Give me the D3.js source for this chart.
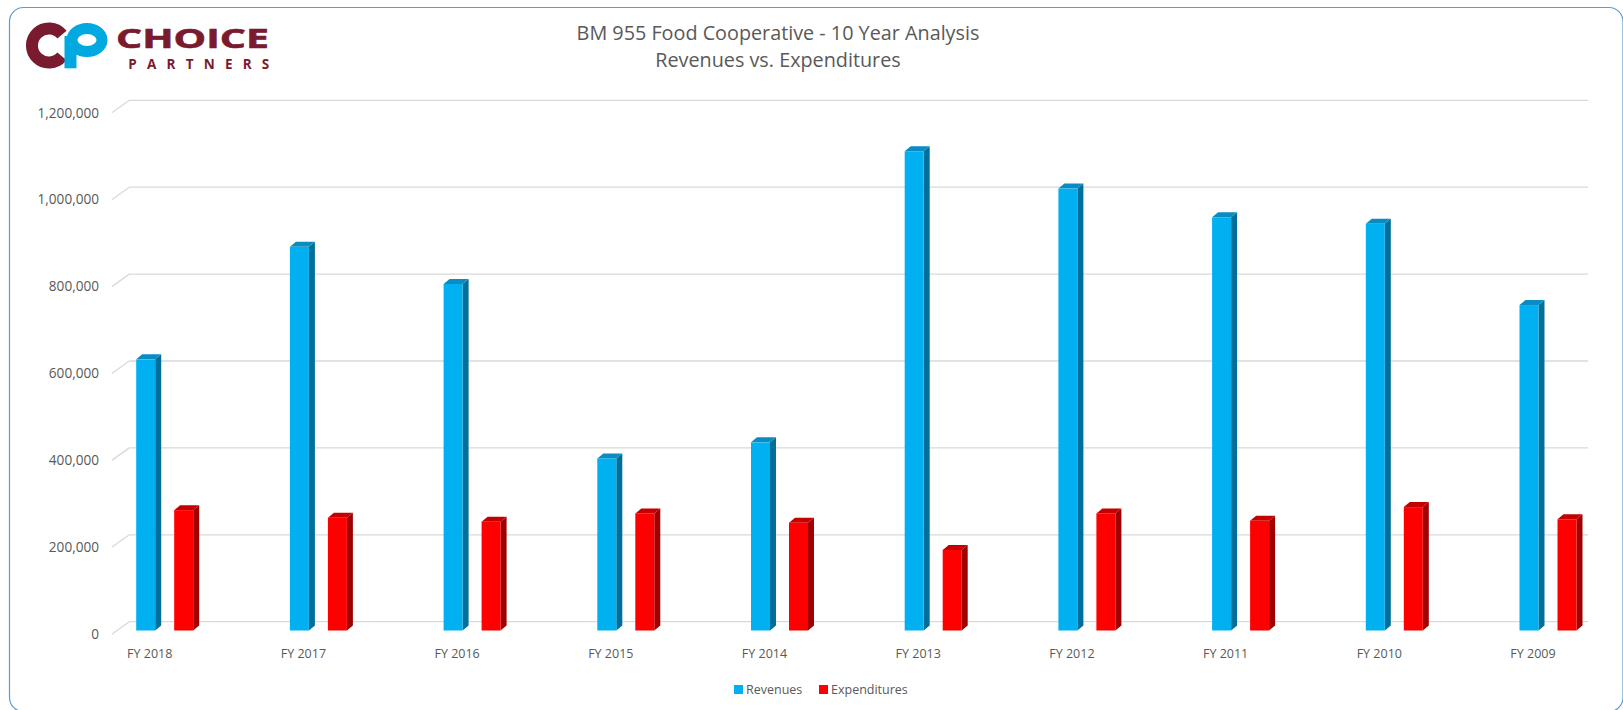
<!DOCTYPE html>
<html>
<head>
<meta charset="utf-8">
<script src="https://cdn.jsdelivr.net/npm/d3@7"></script>
<style>
  html, body { margin: 0; padding: 0; background: #ffffff; }
  svg { display: block; }
  text { font-family: "Open Sans", "Liberation Sans", sans-serif; }
</style>
</head>
<body>
<svg id="chart" width="1623" height="710"></svg>
<script>
// Fiscal years, newest first
const categories = ["FY 2018", "FY 2017", "FY 2016", "FY 2015", "FY 2014",
                    "FY 2013", "FY 2012", "FY 2011", "FY 2010", "FY 2009"];
const revenues = [624000, 883000, 797500, 396000, 433000,
                  1103000, 1017000, 951000, 936000, 749000];
const expenditures = [277000, 259500, 250500, 269500, 248000,
                      185500, 269500, 252500, 284000, 256000];
const seriesNames = ["Revenues", "Expenditures"];
const yTicks = [0, 200000, 400000, 600000, 800000, 1000000, 1200000];
const titleLines = ["BM 955 Food Cooperative - 10 Year Analysis", "Revenues vs. Expenditures"];

const colors = {
  Revenues:     { front: "#00B0F0", side: "#00709A", top: "#0A8CC2" },
  Expenditures: { front: "#FF0000", side: "#A00000", top: "#C40000" }
};

const svg = d3.select("#chart");

// Frame around the whole chart (runs just past the right and bottom edges)
svg.append("rect")
  .attr("x", 9.5).attr("y", 7.5)
  .attr("width", 1613.5).attr("height", 704)
  .attr("rx", 14).attr("ry", 14)
  .attr("fill", "none")
  .attr("stroke", "#5B9BD5")
  .attr("stroke-width", 1.2);

// Plot geometry: back wall, depth of the floor and of each column
const wallLeft = 129.3, wallRight = 1588;
const depth = { dx: -17.5, dy: 12.5 };      // back wall -> front floor edge
const barDepth = { dx: 6, dy: -5 };          // column front -> column back
const frontOffsetY = 8.8;                    // column front face below wall line

const y = d3.scaleLinear().domain([0, 1200000]).range([621.7, 100.3]);
const x = d3.scalePoint().domain(categories).range([164.7, 1548]);
const xs = d3.scaleBand().domain(seriesNames).range([-28.5, 28.5])
  .paddingInner(0.5).paddingOuter(0);

// Gridlines on the back wall plus the short depth strokes at the left
const grid = svg.append("g").attr("stroke", "#D9D9D9").attr("stroke-width", 1.3).attr("fill", "none");
yTicks.forEach(t => {
  grid.append("line")
    .attr("x1", wallLeft).attr("x2", wallRight)
    .attr("y1", y(t)).attr("y2", y(t));
  grid.append("line")
    .attr("x1", wallLeft + depth.dx).attr("y1", y(t) + depth.dy)
    .attr("x2", wallLeft).attr("y2", y(t));
});

// Value axis labels sit at the front edge of the floor
const fmt = d3.format(",");
svg.append("g").selectAll("text").data(yTicks).join("text")
  .attr("x", 99)
  .attr("y", d => y(d) + depth.dy)
  .attr("dy", "0.35em")
  .attr("text-anchor", "end")
  .attr("font-size", 13.6)
  .attr("fill", "#595959")
  .text(d => fmt(d));

// 3-D columns
const rows = categories.map((c, i) => ({
  cat: c,
  values: [
    { key: "Revenues", value: revenues[i] },
    { key: "Expenditures", value: expenditures[i] }
  ]
}));

const bars = svg.append("g");
rows.forEach(r => {
  r.values.forEach(v => {
    const x0 = x(r.cat) + xs(v.key);
    const w = xs.bandwidth();
    const top = y(v.value) + frontOffsetY;
    const bottom = y(0) + frontOffsetY;
    const c = colors[v.key];
    const g = bars.append("g");
    // side face
    g.append("polygon")
      .attr("points", [
        [x0 + w, top], [x0 + w + barDepth.dx, top + barDepth.dy],
        [x0 + w + barDepth.dx, bottom + barDepth.dy], [x0 + w, bottom]
      ].map(p => p.join(",")).join(" "))
      .attr("fill", c.side);
    // top face
    g.append("polygon")
      .attr("points", [
        [x0, top], [x0 + barDepth.dx, top + barDepth.dy],
        [x0 + w + barDepth.dx, top + barDepth.dy], [x0 + w, top]
      ].map(p => p.join(",")).join(" "))
      .attr("fill", c.top);
    // front face
    g.append("rect")
      .attr("x", x0).attr("y", top)
      .attr("width", w).attr("height", bottom - top)
      .attr("fill", c.front);
  });
});

// Category labels
svg.append("g").selectAll("text").data(categories).join("text")
  .attr("x", d => x(d) - 15)
  .attr("y", 657.5)
  .attr("text-anchor", "middle")
  .attr("font-size", 12.5)
  .attr("fill", "#595959")
  .text(d => d);

// Title
svg.append("g").selectAll("text").data(titleLines).join("text")
  .attr("x", 778)
  .attr("y", (d, i) => i === 0 ? 40 : 67)
  .attr("text-anchor", "middle")
  .attr("font-size", 19.8)
  .attr("fill", "#595959")
  .text(d => d);

// Legend
const legendItems = [
  { key: "Revenues", sx: 734, tx: 746 },
  { key: "Expenditures", sx: 819, tx: 831 }
];
const legend = svg.append("g");
legendItems.forEach(it => {
  legend.append("rect")
    .attr("x", it.sx).attr("y", 685)
    .attr("width", 9).attr("height", 9)
    .attr("fill", colors[it.key].front);
  legend.append("text")
    .attr("x", it.tx).attr("y", 693.5)
    .attr("font-size", 12.5)
    .attr("fill", "#595959")
    .text(it.key);
});

// Brand mark in the top-left corner
const logo = svg.append("g");
logo.append("path")
  .attr("d", "M 62,34.6 A 17 17 0 1 0 62,56.4")
  .attr("fill", "none")
  .attr("stroke", "#7A1A2E")
  .attr("stroke-width", 12);
logo.append("rect")
  .attr("x", 64.5).attr("y", 36).attr("width", 12).attr("height", 32.3)
  .attr("fill", "#00A9E0");
logo.append("ellipse")
  .attr("cx", 87).attr("cy", 40).attr("rx", 15).attr("ry", 11.5)
  .attr("fill", "none")
  .attr("stroke", "#00A9E0")
  .attr("stroke-width", 11);
logo.append("text")
  .attr("x", 116).attr("y", 47.5)
  .attr("font-family", "'Liberation Sans', Arial, sans-serif")
  .attr("font-weight", 700)
  .attr("font-size", 27.5)
  .attr("textLength", 153)
  .attr("lengthAdjust", "spacingAndGlyphs")
  .attr("fill", "#7A1A2E")
  .attr("stroke", "#7A1A2E")
  .attr("stroke-width", 0.6)
  .text("CHOICE");
logo.append("text")
  .attr("x", 128.3).attr("y", 68.6)
  .attr("font-family", "'Liberation Sans', Arial, sans-serif")
  .attr("font-weight", 700)
  .attr("font-size", 13.5)
  .attr("textLength", 141)
  .attr("lengthAdjust", "spacing")
  .attr("fill", "#7A1A2E")
  .text("PARTNERS");
</script>
</body>
</html>
